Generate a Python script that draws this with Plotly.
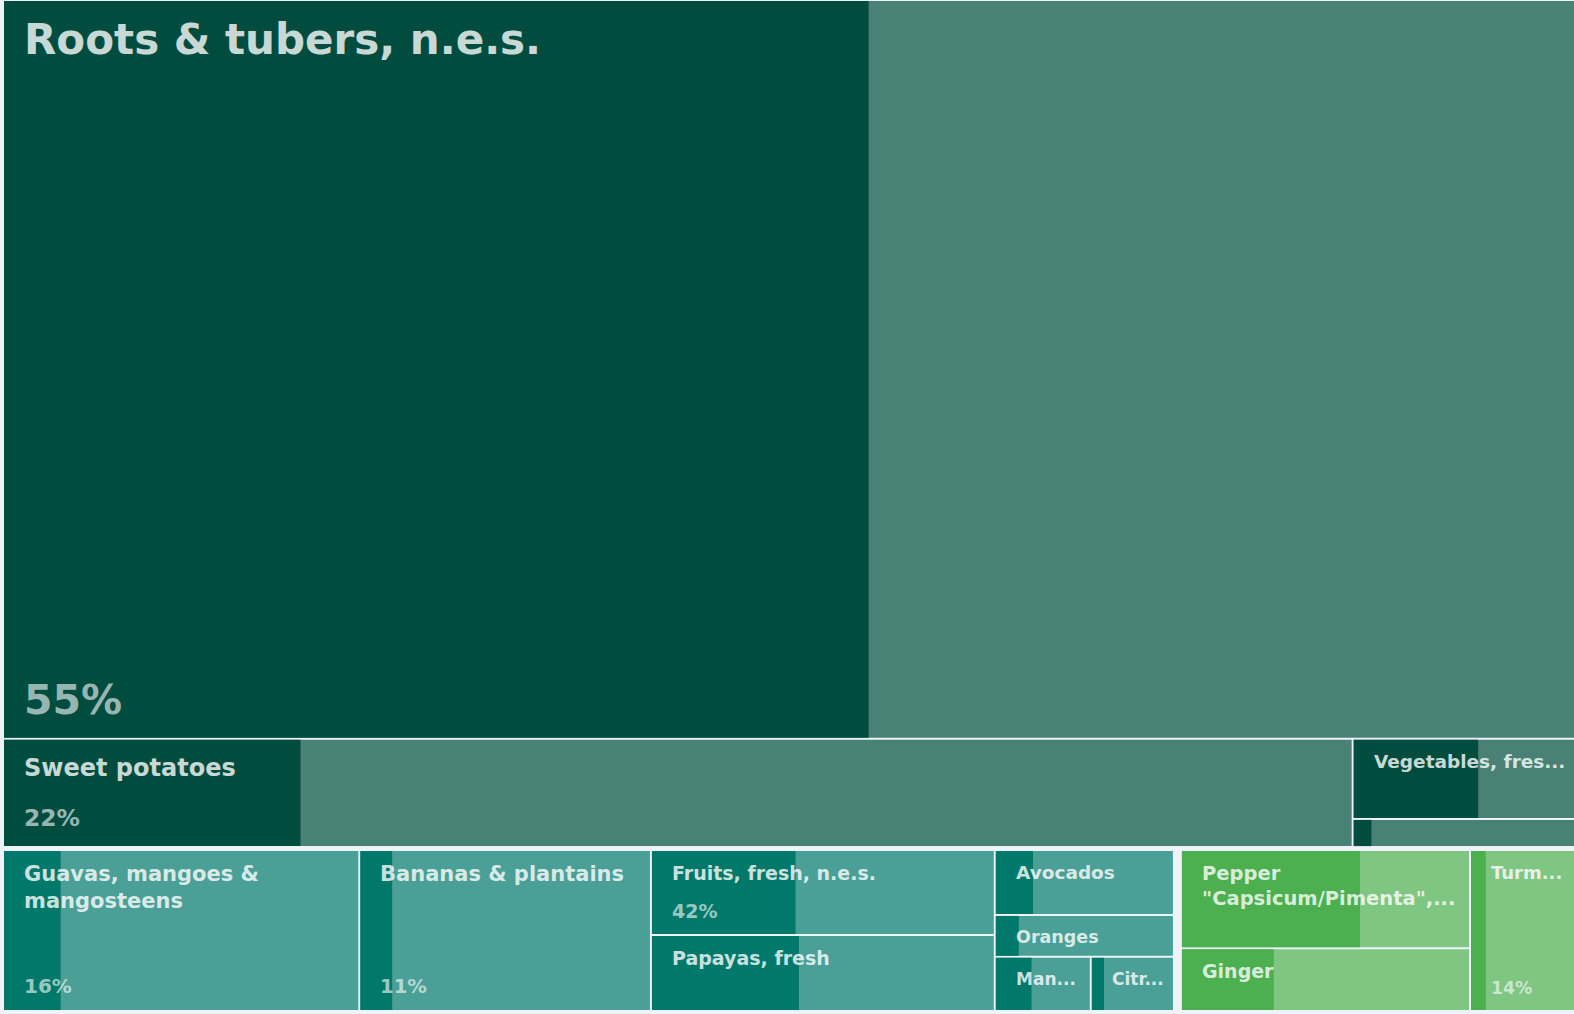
import plotly.graph_objects as go

# ---------------- data ----------------
labels = [
    "Roots & tubers, n.e.s.",
    "Sweet potatoes",
    "Vegetables, fres...",
    "",
    "Guavas, mangoes &<br>mangosteens",
    "Bananas & plantains",
    "Fruits, fresh, n.e.s.",
    "Papayas, fresh",
    "Avocados",
    "Oranges",
    "Man...",
    "Citr...",
    "Pepper<br>\"Capsicum/Pimenta\",...",
    "Ginger",
    "Turm...",
]
groups = [0, 0, 0, 0, 1, 1, 1, 1, 1, 1, 1, 1, 2, 2, 2]
group_names = ["Roots, tubers & vegetables", "Fruits", "Spices"]
values = [11570, 1456, 179, 63, 573, 469, 292, 261, 116, 75, 52, 45, 284, 181, 172]
shares = [55, 22, 56, 8, 16, 11, 42, 43, 21, 13, 38, 15, 62, 32, 14]
share_shown = [True, True, False, False, True, True, True, False, False, False,
               False, False, False, False, True]

# nesting of the tiles: (direction, gap, children); ints index the arrays above
tree = ("v", 3, [
    ("v", 0, [0, ("h", 0, [1, ("v", 0, [2, 3])])]),
    ("h", 7, [
        ("h", 0, [4, 5, ("v", 0, [6, 7]), ("v", 0, [8, 9, ("h", 0, [10, 11])])]),
        ("h", 0, [("v", 0, [12, 13]), 14]),
    ]),
])

# ---------------- style ----------------
W, H = 1574, 1014
X0, X1, Y0, Y1 = 3, 1577, 0, 1011
INSET = 1
group_dark = ["#004d40", "#00796b", "#4caf50"]
label_size = [42, 24, 18.5, 14, 21, 21, 19, 19, 18.5, 17.5, 17, 17, 19.5, 19, 18]
pct_size = [41, 23.4, 18, 14, 20, 19.6, 19, 18.5, 18, 17, 17, 17, 19, 18.5, 17.3]
PAD_X = 18
FONT = "DejaVu Sans"


def pad_top(fs):
    return 12 if fs >= 24 else 9


def pad_bottom(fs):
    return 12 if fs >= 24 else 10.5


def blend_white(hexc, a):
    h = hexc.lstrip("#")
    r, g, b = (int(h[i:i + 2], 16) for i in (0, 2, 4))
    mix = lambda c: round(c * a + 255 * (1 - a))
    return "#%02x%02x%02x" % (mix(r), mix(g), mix(b))


group_light = [blend_white(c, 0.71) for c in group_dark]


def subtotal(node):
    if isinstance(node, int):
        return values[node]
    return sum(subtotal(c) for c in node[2])


rects = {}


def place(node, x0, y0, x1, y1):
    if isinstance(node, int):
        rects[node] = (x0, y0, x1, y1)
        return
    d, gap, children = node
    tots = [subtotal(c) for c in children]
    s = sum(tots)
    if d == "h":
        avail = (x1 - x0) - gap * (len(children) - 1)
        pos = x0
        for c, t in zip(children, tots):
            w = avail * t / s
            place(c, pos, y0, pos + w, y1)
            pos += w + gap
    else:
        avail = (y1 - y0) - gap * (len(children) - 1)
        pos = y0
        for c, t in zip(children, tots):
            h = avail * t / s
            place(c, x0, pos, x1, pos + h)
            pos += h + gap


place(tree, X0, Y0, X1, Y1)

n = len(labels)
cells = []
for i in range(n):
    x0, y0, x1, y1 = rects[i]
    cells.append((x0 + INSET, y0 + INSET, x1 - INSET, y1 - INSET))

bx = [c[0] for c in cells]
bw = [c[2] - c[0] for c in cells]
by = [(c[1] + c[3]) / 2 for c in cells]
bh = [c[3] - c[1] for c in cells]
fw = [bw[i] * shares[i] / 100 for i in range(n)]

hover_names = [l.replace("<br>", " ") or "Other" for l in labels]
custom = [[hover_names[i], group_names[groups[i]], values[i], shares[i]] for i in range(n)]
htpl = ("<b>%{customdata[0]}</b><br>%{customdata[1]}<br>Value: %{customdata[2]:,}"
        "<br>Share: %{customdata[3]}%<extra></extra>")

fig = go.Figure()
fig.add_trace(go.Bar(
    orientation="h", base=bx, x=bw, y=by, width=bh,
    marker=dict(color=[group_light[g] for g in groups], line=dict(width=0)),
    customdata=custom, hovertemplate=htpl, showlegend=False,
))
fig.add_trace(go.Bar(
    orientation="h", base=bx, x=fw, y=by, width=bh,
    marker=dict(color=[group_dark[g] for g in groups], line=dict(width=0)),
    customdata=custom, hovertemplate=htpl, showlegend=False,
))

annotations = []
for i in range(n):
    x0, y0, x1, y1 = cells[i]
    if labels[i]:
        annotations.append(dict(
            x=x0 + PAD_X, y=y0 + pad_top(label_size[i]), xref="x", yref="y",
            xanchor="left", yanchor="top", align="left", showarrow=False,
            text=labels[i],
            font=dict(family=FONT, size=label_size[i], weight="bold",
                      color="rgba(255,255,255,0.8)"),
        ))
    if share_shown[i]:
        annotations.append(dict(
            x=x0 + PAD_X, y=y1 - pad_bottom(label_size[i]), xref="x", yref="y",
            xanchor="left", yanchor="bottom", align="left", showarrow=False,
            text=f"{shares[i]}%",
            font=dict(family=FONT, size=pct_size[i], weight="bold",
                      color="rgba(255,255,255,0.6)"),
        ))

fig.update_layout(
    width=W, height=H,
    margin=dict(l=0, r=0, t=0, b=0, pad=0),
    barmode="overlay",
    paper_bgcolor="#eef3f8", plot_bgcolor="#eef3f8",
    xaxis=dict(range=[0, W], visible=False, fixedrange=True),
    yaxis=dict(range=[H, 0], visible=False, fixedrange=True),
    annotations=annotations,
    hoverlabel=dict(font=dict(family=FONT)),
)

fig.write_html(
    "out.html",
    config={"displayModeBar": False},
    post_script="document.body.style.margin='0';document.body.style.overflow='hidden';",
)
